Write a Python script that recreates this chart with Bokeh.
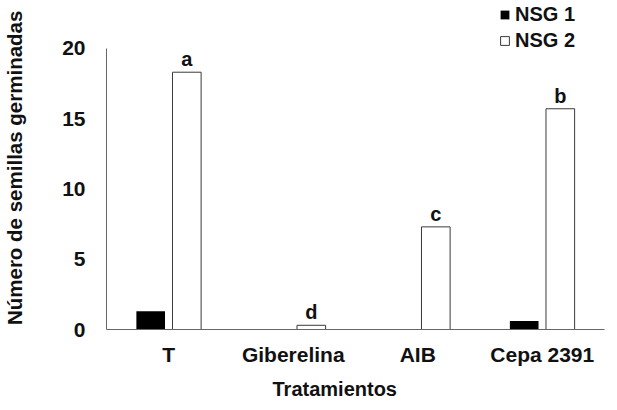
from bokeh.plotting import figure
from bokeh.models import ColumnDataSource, FactorRange, Range1d, FixedTicker, Legend, Title
from bokeh.transform import dodge
from bokeh.core.properties import value
from bokeh.embed import file_html
from bokeh.resources import INLINE

categories = ["T", "Giberelina", "AIB", "Cepa 2391"]
nsg1 = [1.3, 0.0, 0.0, 0.6]
nsg2 = [18.3, 0.3, 7.3, 15.7]
letters = ["a", "d", "c", "b"]
y_ticks = [0, 5, 10, 15, 20]

FONT = "Liberation Sans"
TXT = "#111111"

src = ColumnDataSource(dict(cat=categories, nsg1=nsg1, nsg2=nsg2, letters=letters))

p = figure(width=617, height=410, x_range=FactorRange(*categories),
           y_range=Range1d(0, 23.4), output_backend="svg", toolbar_location=None,
           min_border_left=106, min_border_right=13, min_border_top=0,
           min_border_bottom=80)
p.outline_line_color = None
p.xgrid.grid_line_color = None
p.ygrid.grid_line_color = None
p.x_range.range_padding = 0

r1 = p.vbar(x=dodge("cat", -0.145, range=p.x_range), top="nsg1", width=0.23,
            source=src, fill_color="black", line_color=None)
r2 = p.vbar(x=dodge("cat", 0.145, range=p.x_range), top="nsg2", width=0.23,
            source=src, fill_color="white", line_color="#3a3a3a", line_width=1)

p.text(x=dodge("cat", 0.145, range=p.x_range), y="nsg2", text="letters", source=src,
       text_align="center", text_baseline="alphabetic", y_offset=-13,
       text_font=value(FONT), text_font_style="bold", text_font_size="20px",
       text_color=TXT)

# axes
ya = p.yaxis[0]
ya.ticker = FixedTicker(ticks=y_ticks)
ya.bounds = (0, 20)
ya.major_tick_line_color = None
ya.minor_tick_line_color = None
ya.major_tick_out = 0
ya.major_tick_in = 0
ya.axis_line_color = "#666666"
ya.major_label_standoff = 21
ya.major_label_text_font = FONT
ya.major_label_text_font_style = "bold"
ya.major_label_text_font_size = "21px"
ya.major_label_text_color = TXT
ya.axis_label = "Número de semillas  germinadas"
ya.axis_label_standoff = 33
ya.axis_label_text_font = FONT
ya.axis_label_text_font_style = "bold"
ya.axis_label_text_font_size = "20.5px"
ya.axis_label_text_color = TXT

xa = p.xaxis[0]
xa.major_tick_line_color = None
xa.minor_tick_line_color = None
xa.major_tick_out = 0
xa.major_tick_in = 0
xa.axis_line_color = "#666666"
xa.major_label_standoff = 13
xa.major_label_text_font = FONT
xa.major_label_text_font_style = "bold"
xa.major_label_text_font_size = "21px"
xa.major_label_text_color = TXT

# x-axis title, placed off-centre like the original
xt = Title(text="Tratamientos", align="left", offset=166, standoff=18,
           vertical_align="top",
           text_font=FONT, text_font_style="bold", text_font_size="20px",
           text_color=TXT)
p.add_layout(xt, "below")

legend = Legend(items=[("NSG 1", [r1]), ("NSG 2", [r2])], location=(393, 277),
                padding=0, margin=0, spacing=3, glyph_width=11, glyph_height=11,
                label_height=20, label_standoff=5,
                label_text_font=FONT, label_text_font_style="bold",
                label_text_font_size="20px", label_text_color=TXT,
                border_line_color=None, background_fill_alpha=0)
p.add_layout(legend)

open("out.html", "w").write(file_html(p, INLINE))
